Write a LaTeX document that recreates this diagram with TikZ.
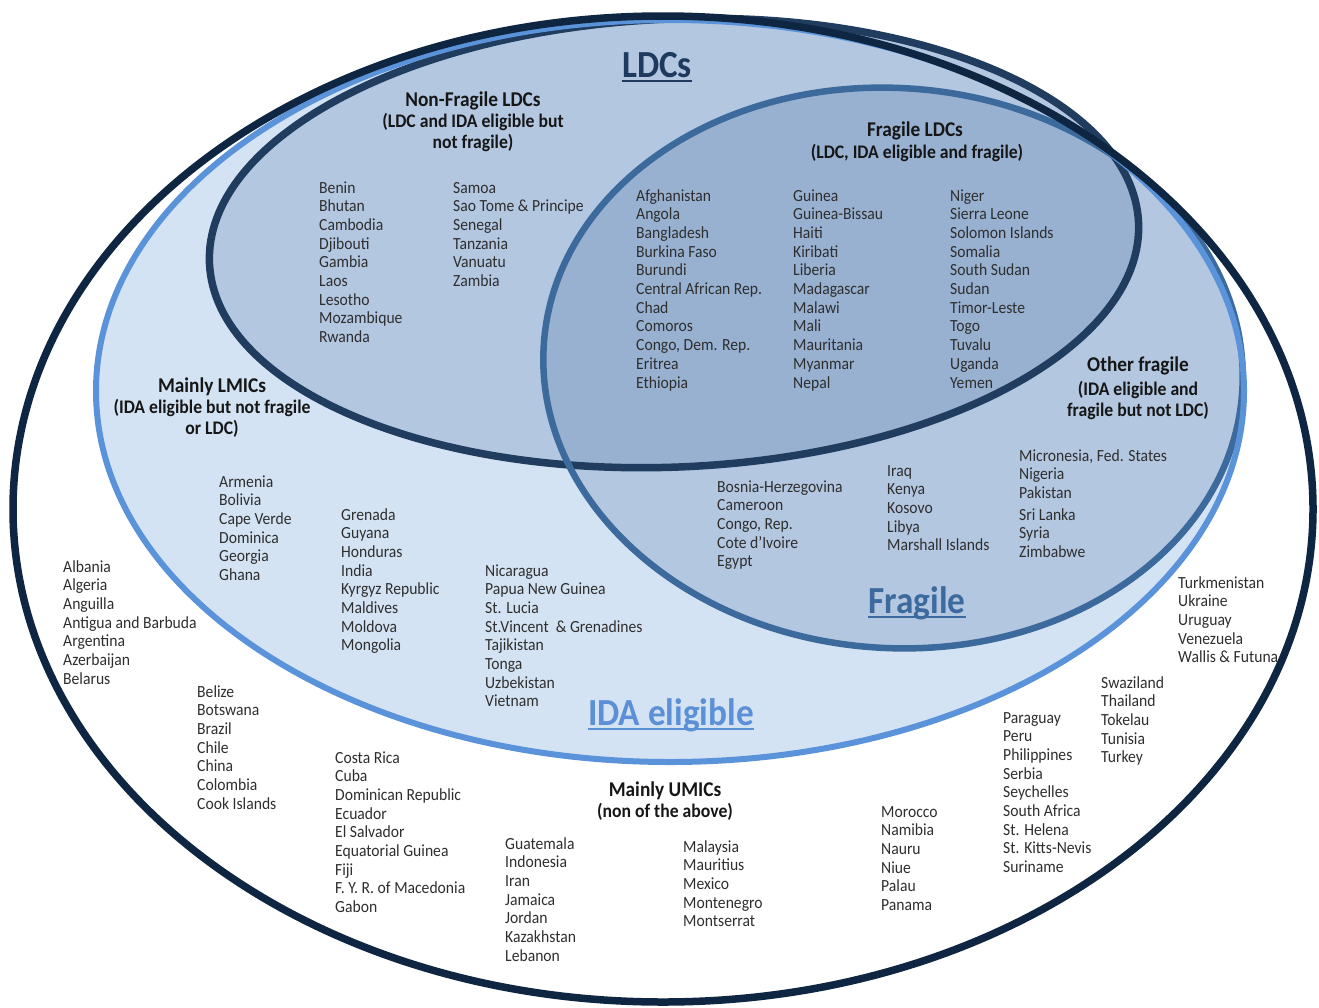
\documentclass[tikz,border=0pt]{standalone}
\usepackage{fontspec}
\setmainfont{Carlito}[FakeStretch=0.92]
\definecolor{outerc}{HTML}{0E2641}
\definecolor{idac}{HTML}{5A93D9}
\definecolor{idafill}{HTML}{D4E3F4}
\definecolor{ldcc}{HTML}{203D60}
\definecolor{ldcfill}{HTML}{B3C7E1}
\definecolor{fragc}{HTML}{3C6A9C}
\definecolor{fragfill}{HTML}{B3C7E1}
\definecolor{interfill}{HTML}{98B1D1}
\definecolor{txtc}{HTML}{2E2E2E}
\definecolor{headc}{HTML}{161616}
\definecolor{ldcl}{HTML}{1F3A5F}
\definecolor{idal}{HTML}{5B90D6}
\definecolor{fragl}{HTML}{3D6A9E}
\newcommand\cl[1]{\begin{tabular}[t]{@{}l@{}}#1\end{tabular}}
\newcommand\hl[1]{\begin{tabular}[t]{@{}c@{}}#1\end{tabular}}
\tikzset{
  country/.style={anchor=base west, inner sep=0pt, text=txtc, font=\fontsize{17bp}{18.7bp}\selectfont},
  headA/.style={anchor=base, inner sep=0pt, text=headc, font=\bfseries\fontsize{21bp}{22bp}\selectfont},
  headB/.style={anchor=base, inner sep=0pt, text=headc, font=\bfseries\fontsize{19.2bp}{21bp}\selectfont},
  biglabel/.style={anchor=base, inner sep=0pt, font=\bfseries\fontsize{38.3bp}{40bp}\selectfont},
  uline/.style={line width=2.5bp}
}
\begin{document}
\begin{tikzpicture}[x=1bp,y=-1bp]
\useasboundingbox (0,0) rectangle (1319,1007);
\fill[white] (0,0) rectangle (1319,1007);
% fills
\fill[white] (663,509) ellipse [x radius=650, y radius=493];
\fill[idafill] (670,391) ellipse [x radius=574, y radius=371];
\fill[ldcfill, rotate around={2.5:(674,243)}] (674,243) ellipse [x radius=465, y radius=224];
\fill[fragfill, rotate around={-4:(893,368)}] (893,368) ellipse [x radius=350, y radius=280];
\begin{scope}
  \clip[rotate around={2.5:(674,243)}] (674,243) ellipse [x radius=465, y radius=224];
  \fill[interfill, rotate around={-4:(893,368)}] (893,368) ellipse [x radius=350, y radius=280];
\end{scope}
% outlines
\draw[ldcc, line width=7.5bp, rotate around={2.5:(674,243)}] (674,243) ellipse [x radius=465, y radius=224];
\draw[fragc, line width=6.5bp, rotate around={-4:(893,368)}] (893,368) ellipse [x radius=350, y radius=280];
\draw[idac, line width=6bp] (670,391) ellipse [x radius=574, y radius=371];
\draw[outerc, line width=7.5bp] (663,509) ellipse [x radius=650, y radius=493];

% big labels
\node[biglabel, text=ldcl] (lLDC) at (657,77) {LDCs};
\draw[uline, ldcl] ([yshift=-4bp]lLDC.base west) -- ([yshift=-4bp]lLDC.base east);
\node[biglabel, text=idal] (lIDA) at (671,725) {IDA eligible};
\draw[uline, idal] ([yshift=-4bp]lIDA.base west) -- ([yshift=-4bp]lIDA.base east);
\node[biglabel, text=fragl] (lFrag) at (917,613) {Fragile};
\draw[uline, fragl] ([yshift=-4bp]lFrag.base west) -- ([yshift=-4bp]lFrag.base east);

% headings
\node[headA] (hNF) at (473,106.5) {Non-Fragile LDCs};
\node[headB] (hNFs) at (473,127) {\hl{(LDC and IDA eligible but\\not fragile)}};
\node[headA] (hFL) at (915,136.5) {Fragile LDCs};
\node[headB] (hFLs) at (917,158) {(LDC, IDA eligible and fragile)};
\node[headA] (hLM) at (212,392.5) {Mainly LMICs};
\node[headB] (hLMs) at (212,413) {\hl{(IDA eligible but not fragile\\or LDC)}};
\node[headA] (hOF) at (1138,371.5) {Other fragile};
\node[headB] (hOFs) at (1138,395) {\hl{(IDA eligible and\\fragile but not LDC)}};
\node[headA] (hUM) at (665,796.5) {Mainly UMICs};
\node[headB] (hUMs) at (665,817) {(non of the above)};

% Non-fragile LDCs
\node[country] (nf1) at (319,193) {\cl{Benin\\Bhutan\\Cambodia\\Djibouti\\Gambia\\Laos\\Lesotho\\Mozambique\\Rwanda}};
\node[country] (nf2) at (453,193) {\cl{Samoa\\Sao Tome \& Principe\\Senegal\\Tanzania\\Vanuatu\\Zambia}};
% Fragile LDCs
\node[country] (fl1) at (636,201) {\cl{Afghanistan\\Angola\\Bangladesh\\Burkina Faso\\Burundi\\Central African Rep.\\Chad\\Comoros\\Congo, Dem. Rep.\\Eritrea\\Ethiopia}};
\node[country] (fl2) at (793,201) {\cl{Guinea\\Guinea-Bissau\\Haiti\\Kiribati\\Liberia\\Madagascar\\Malawi\\Mali\\Mauritania\\Myanmar\\Nepal}};
\node[country] (fl3) at (950,201) {\cl{Niger\\Sierra Leone\\Solomon Islands\\Somalia\\South Sudan\\Sudan\\Timor-Leste\\Togo\\Tuvalu\\Uganda\\Yemen}};
% Other fragile
\node[country] (of1) at (717,492) {\cl{Bosnia-Herzegovina\\Cameroon\\Congo, Rep.\\Cote d'Ivoire\\Egypt}};
\node[country] (of2) at (887,476) {\cl{Iraq\\Kenya\\Kosovo\\Libya\\Marshall Islands}};
\node[country] (of3) at (1019,461) {\cl{Micronesia, Fed. States\\Nigeria\\Pakistan}};
\node[country] (of4) at (1019,520) {\cl{Sri Lanka\\Syria\\Zimbabwe}};
% Mainly LMICs
\node[country] (lm1) at (219,487) {\cl{Armenia\\Bolivia\\Cape Verde\\Dominica\\Georgia\\Ghana}};
\node[country] (lm2) at (341,520) {\cl{Grenada\\Guyana\\Honduras\\India\\Kyrgyz Republic\\Maldives\\Moldova\\Mongolia}};
\node[country] (lm3) at (485,576) {\cl{Nicaragua\\Papua New Guinea\\St. Lucia\\St.Vincent\ \ \& Grenadines\\Tajikistan\\Tonga\\Uzbekistan\\Vietnam}};
% Mainly UMICs
\node[country] (um1) at (63,572) {\cl{Albania\\Algeria\\Anguilla\\Antigua and Barbuda\\Argentina\\Azerbaijan\\Belarus}};
\node[country] (um2) at (197,697) {\cl{Belize\\Botswana\\Brazil\\Chile\\China\\Colombia\\Cook Islands}};
\node[country] (um3) at (335,763) {\cl{Costa Rica\\Cuba\\Dominican Republic\\Ecuador\\El Salvador\\Equatorial Guinea\\Fiji\\F. Y. R. of Macedonia\\Gabon}};
\node[country] (um4) at (505,849) {\cl{Guatemala\\Indonesia\\Iran\\Jamaica\\Jordan\\Kazakhstan\\Lebanon}};
\node[country] (um5) at (683,852) {\cl{Malaysia\\Mauritius\\Mexico\\Montenegro\\Montserrat}};
\node[country] (um6) at (881,817) {\cl{Morocco\\Namibia\\Nauru\\Niue\\Palau\\Panama}};
\node[country] (um7) at (1003,723) {\cl{Paraguay\\Peru\\Philippines\\Serbia\\Seychelles\\South Africa\\St. Helena\\St. Kitts-Nevis\\Suriname}};
\node[country] (um8) at (1101,688) {\cl{Swaziland\\Thailand\\Tokelau\\Tunisia\\Turkey}};
\node[country] (um9) at (1178,588) {\cl{Turkmenistan\\Ukraine\\Uruguay\\Venezuela\\Wallis \& Futuna}};
\end{tikzpicture}
\end{document}
